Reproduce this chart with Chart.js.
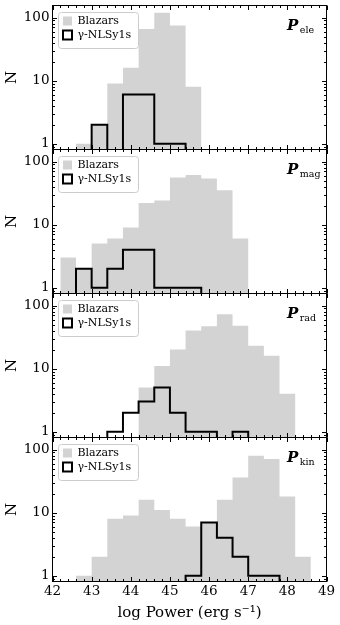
<!DOCTYPE html>
<html>
<head>
<meta charset="utf-8">
<script src="https://cdn.jsdelivr.net/npm/chart.js@4.4.1/dist/chart.umd.min.js"></script>
<style>
body { margin: 0; width: 340px; height: 625px; overflow: hidden; background: #fff; position: relative; }
canvas { position: absolute; left: 0; }
</style>
</head>
<body>
<canvas id="panelEle" width="340" height="145" style="top:5px;width:340px;height:145px"></canvas>
<canvas id="panelMag" width="340" height="145" style="top:149px;width:340px;height:145px"></canvas>
<canvas id="panelRad" width="340" height="145" style="top:293px;width:340px;height:145px"></canvas>
<canvas id="panelKin" width="340" height="188" style="top:437px;width:340px;height:188px"></canvas>
<script>

// bordes de los bins (log Power)
const bordesBins = [42.2, 42.6, 43.0, 43.4, 43.8, 44.2, 44.6, 45.0, 45.4, 45.8, 46.2, 46.6, 47.0, 47.4, 47.8, 48.2, 48.6];

const blazarsEle = [0, 1, 2, 9, 16, 66, 119, 75, 8, 0, 0, 0, 0, 0, 0, 0];
const nlsEle     = [0, 0, 2, 0, 6, 6, 1, 1, 0, 0, 0, 0, 0, 0, 0, 0];

const blazarsMag = [3, 2, 5, 6, 9, 22, 24, 56, 61, 54, 35, 6, 0, 0, 0, 0];
const nlsMag     = [0, 2, 1, 2, 4, 4, 1, 1, 1, 0, 0, 0, 0, 0, 0, 0];

const blazarsRad = [0, 0, 0, 0, 0, 5, 11, 20, 40, 47, 73, 48, 23, 16, 4, 0];
const nlsRad     = [0, 0, 0, 1, 2, 3, 5, 2, 1, 1, 0, 1, 0, 0, 0, 0];

const blazarsKin = [0, 1, 2, 8, 9, 16, 11, 8, 6, 7, 16, 36, 80, 71, 18, 2];
const nlsKin     = [0, 0, 0, 0, 0, 0, 0, 0, 1, 7, 4, 2, 1, 1, 0, 0];

const etiquetasSeries = ["Blazars", "γ-NLSy1s"];
const subindices = ["ele", "mag", "rad", "kin"];

const ticksX = [42, 43, 44, 45, 46, 47, 48, 49];
const ticksXMenores = [42.2, 42.4, 42.6, 42.8, 43.2, 43.4, 43.6, 43.8, 44.2, 44.4, 44.6, 44.8, 45.2, 45.4, 45.6, 45.8, 46.2, 46.4, 46.6, 46.8, 47.2, 47.4, 47.6, 47.8, 48.2, 48.4, 48.6, 48.8];
const ticksY = [1, 10, 100];
const ticksYMenores = [0.9, 2, 3, 4, 5, 6, 7, 8, 9, 20, 30, 40, 50, 60, 70, 80, 90];

const fuente = '"DejaVu Serif"';
const grisBlazar = "#d3d3d3";

function puntosHistograma(conteos) {

    // escalones: cada conteo vale desde su borde izquierdo
    const puntos = [{ x: bordesBins[0], y: 0.1 }];

    conteos.forEach((c, i) => {
        puntos.push({ x: bordesBins[i], y: c || 0.1 });
    });

    puntos.push({ x: bordesBins[bordesBins.length - 1], y: 0.1 });

    return puntos;
}

const marcoPlugin = {

    id: "marco",

    afterLayout(chart) {

        const leyenda = chart.legend;
        const ca = chart.chartArea;

        leyenda.left = ca.left + 7.5;
        leyenda.top = ca.top + 7;

    },

    beforeDraw(chart) {

        const ctx = chart.ctx;
        const leyenda = chart.legend;

        const fx = Math.round(leyenda.left - 2) + 0.5;
        const fy = Math.round(leyenda.top - 0.5) + 0.5;

        ctx.save();
        ctx.beginPath();
        ctx.roundRect(fx, fy, 80, 36, 3);
        ctx.fillStyle = "rgba(255,255,255,0.8)";
        ctx.fill();
        ctx.strokeStyle = "#cccccc";
        ctx.lineWidth = 1;
        ctx.stroke();
        ctx.restore();

    },

    afterDatasetsDraw(chart, args, opciones) {

        const ctx = chart.ctx;
        const ca = chart.chartArea;
        const x = chart.scales.x;
        const y = chart.scales.y;

        const L = Math.floor(ca.left) + 0.5;
        const R = Math.floor(ca.right) + 0.5;
        const T = Math.floor(ca.top) + 0.5;
        const B = Math.floor(ca.bottom) + 0.5;

        ctx.save();
        ctx.strokeStyle = "#000";
        ctx.lineWidth = 1;
        ctx.beginPath();

        const marcaX = (v, largo) => {
            const px = Math.round(x.getPixelForValue(v)) + 0.5;
            ctx.moveTo(px, B);
            ctx.lineTo(px, B - largo);
            ctx.moveTo(px, T);
            ctx.lineTo(px, T + largo);
        };

        const marcaY = (v, largo) => {
            const py = Math.round(y.getPixelForValue(v)) + 0.5;
            ctx.moveTo(L, py);
            ctx.lineTo(L + largo, py);
            ctx.moveTo(R, py);
            ctx.lineTo(R - largo, py);
        };

        ticksX.forEach(v => marcaX(v, 4.5));
        ticksXMenores.forEach(v => marcaX(v, 2.5));
        ticksY.forEach(v => marcaY(v, 4.5));
        ticksYMenores.forEach(v => marcaY(v, 2.5));

        ctx.stroke();
        ctx.strokeRect(L, T, R - L, B - T);

        // etiqueta P_sub
        const base = ca.top + 24;
        ctx.fillStyle = "#000";
        ctx.textBaseline = "alphabetic";
        ctx.textAlign = "left";
        ctx.font = "bold italic 15px " + fuente;
        ctx.fillText("P", 287, base);
        const anchoP = ctx.measureText("P").width;
        ctx.font = "9.5px " + fuente;
        ctx.fillText(opciones.sub, 287 + anchoP + 1.5, base + 3);

        ctx.restore();

    }

};

function crearPanel(idCanvas, blazars, nls, sub, conEjeX) {

    return new Chart(

        document.getElementById(idCanvas),

        {

            type: "line",

            data: {

                datasets: [

                    {
                        label: etiquetasSeries[0],
                        data: puntosHistograma(blazars),
                        stepped: "before",
                        fill: "start",
                        backgroundColor: grisBlazar,
                        borderColor: "rgba(0,0,0,0)",
                        borderWidth: 0,
                        pointRadius: 0,
                        clip: 0,
                        order: 2
                    },

                    {
                        label: etiquetasSeries[1],
                        data: puntosHistograma(nls),
                        stepped: "before",
                        fill: false,
                        backgroundColor: "rgba(0,0,0,0)",
                        borderColor: "#000",
                        borderWidth: 2,
                        borderJoinStyle: "miter",
                        pointRadius: 0,
                        clip: 0,
                        order: 1
                    }

                ]

            },

            options: {

                responsive: false,
                animation: false,
                devicePixelRatio: 1,

                layout: {
                    padding: { left: 0, right: 13.5, top: 0.5, bottom: conEjeX ? 0 : 0.5 }
                },

                scales: {

                    x: {
                        type: "linear",
                        min: 42,
                        max: 49,
                        display: conEjeX,
                        grid: { display: false, drawTicks: false },
                        border: { display: false },
                        ticks: {
                            stepSize: 1,
                            padding: 2,
                            color: "#000",
                            font: { family: fuente, size: 13.5 },
                            maxRotation: 0
                        },
                        title: {
                            display: true,
                            text: "log Power (erg s⁻¹)",
                            color: "#000",
                            font: { family: fuente, size: 15 },
                            padding: { top: 0, bottom: 3 }
                        },
                        afterFit(escala) {
                            escala.height = conEjeX ? 43.5 : 0;
                            escala.paddingLeft = 0;
                            escala.paddingRight = 0;
                        }
                    },

                    y: {
                        type: "logarithmic",
                        min: 0.81,
                        max: 155,
                        grid: { display: false, drawTicks: false },
                        border: { display: false },
                        ticks: {
                            autoSkip: false,
                            padding: 3,
                            color: "#000",
                            font: { family: fuente, size: 13.5 },
                            callback: (valor) => ticksY.includes(valor) ? String(valor) : ""
                        },
                        title: {
                            display: true,
                            text: "N",
                            color: "#000",
                            font: { family: fuente, size: 15 },
                            padding: { top: 3, bottom: 0 }
                        },
                        afterFit(escala) {
                            escala.width = 52.5;
                            escala.paddingTop = 0;
                            escala.paddingBottom = 0;
                        }
                    }

                },

                plugins: {

                    legend: {
                        position: "chartArea",
                        align: "start",
                        labels: {
                            boxWidth: 9,
                            boxHeight: 9,
                            padding: 3,
                            color: "#000",
                            font: { family: fuente, size: 11 },
                            sort: (a, b) => a.datasetIndex - b.datasetIndex
                        }
                    },

                    tooltip: { enabled: false },

                    marco: { sub: sub }

                }

            },

            plugins: [marcoPlugin]

        }

    );

}

crearPanel("panelEle", blazarsEle, nlsEle, subindices[0], false);
crearPanel("panelMag", blazarsMag, nlsMag, subindices[1], false);
crearPanel("panelRad", blazarsRad, nlsRad, subindices[2], false);
crearPanel("panelKin", blazarsKin, nlsKin, subindices[3], true);

</script>
</body>
</html>
